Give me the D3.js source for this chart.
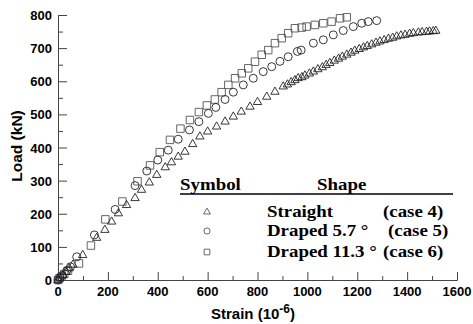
<!DOCTYPE html>
<html>
<head>
<meta charset="utf-8">
<script src="https://cdnjs.cloudflare.com/ajax/libs/d3/7.8.5/d3.min.js"></script>
<style>
body{margin:0;background:#fff;}
svg{display:block;}
</style>
</head>
<body>
<svg></svg>
<script>
// strain (10^-6) and load (kN)
let straightStrain=[0,8,20,32,45,60,99,155,188,215,242,275,309,335,366,396,430,455,482,509,540,569,600,636,670,703,735,770,800,837,870,903,920,935,950,963,978,990,1008,1024,1042,1060,1075,1090,1108,1125,1140,1158,1175,1190,1208,1225,1240,1258,1275,1291,1308,1325,1342,1358,1375,1392,1410,1425,1445,1460,1478,1490,1505,1515];
let straightLoad=[0,6,15,24,35,46,75,127,151,176,201,226,247,272,294,317,340,355,372,387,410,433,448,463,478,493,508,523,537,553,568,584,590,597,603,609,612,617,623,629,636,642,649,655,662,668,674,680,686,692,697,702,706,711,716,720,724,728,731,735,738,740,743,745,747,748,749,750,751,752];

let drapedAStrain=[0,8,18,35,50,75,146,229,309,356,400,442,482,527,565,603,633,670,703,743,783,823,857,890,923,960,975,1024,1064,1104,1144,1184,1218,1244,1278];
let drapedALoad=[0,7,14,28,40,70,136,213,285,329,362,392,425,453,478,503,521,545,567,589,609,629,644,660,674,690,694,715,725,740,753,765,775,780,783];

let drapedBStrain=[0,6,14,25,40,84,132,190,258,319,369,408,449,491,529,565,597,629,656,683,710,737,763,790,817,843,870,897,923,950,977,997,1030,1064,1097,1131,1158];
let drapedBLoad=[0,5,10,18,28,50,104,183,237,298,346,386,423,457,483,507,527,545,567,589,609,624,639,659,680,694,715,730,745,760,762,765,770,775,780,790,793];

let xTicks=[0,200,400,600,800,1000,1200,1400,1600];
let yTicks=[0,100,200,300,400,500,600,700,800];

let legendNames=['Straight','Draped 5.7 °','Draped 11.3 °'];
let legendCases=['(case 4)','(case 5)','(case 6)'];

let w=473;
let h=324;
let svg=d3.select('svg').attr('width',w).attr('height',h);

let xScale=d3.scaleLinear().domain([0,1600]).range([58,457]);
let yScale=d3.scaleLinear().domain([0,800]).range([280,15]);

let axisColor='#444';

// y axis, ticks pointing inside
let yAxis=d3.axisRight(yScale).tickValues(yTicks).tickSize(9).tickFormat('');
svg.append('g').attr('transform','translate(58,0)').call(yAxis);
let yMinor=d3.axisRight(yScale).tickValues(d3.range(50,800,100)).tickSize(5).tickFormat('');
svg.append('g').attr('transform','translate(58,0)').call(yMinor).select('.domain').remove();

let xAxis=d3.axisTop(xScale).tickValues(xTicks).tickSize(8).tickFormat('');
svg.append('g').attr('transform','translate(0,280)').call(xAxis);
let xMinor=d3.axisTop(xScale).tickValues(d3.range(100,1600,200)).tickSize(4).tickFormat('');
svg.append('g').attr('transform','translate(0,280)').call(xMinor).select('.domain').remove();

svg.selectAll('.domain,.tick line').attr('stroke',axisColor).attr('stroke-width',1);

let labelFont='Liberation Sans, Arial, sans-serif';

svg.selectAll('.ylab').data(yTicks).enter().append('text')
  .attr('x',52).attr('y',d=>yScale(d)+5)
  .attr('text-anchor','end')
  .style('font-family',labelFont).style('font-weight','bold').style('font-size','13px')
  .text(d=>d);

svg.selectAll('.xlab').data(xTicks).enter().append('text')
  .attr('x',d=>xScale(d)).attr('y',296)
  .attr('text-anchor','middle')
  .style('font-family',labelFont).style('font-weight','bold').style('font-size','13px')
  .text(d=>d);

let xTitle=svg.append('text')
  .attr('x',253).attr('y',319)
  .attr('text-anchor','middle')
  .style('font-family',labelFont).style('font-weight','bold').style('font-size','15px');
xTitle.append('tspan').text('Strain (10');
xTitle.append('tspan').attr('dy',-6).style('font-size','12px').text('-6');
xTitle.append('tspan').attr('dy',6).text(')');

svg.append('text')
  .attr('transform','translate(22,146) rotate(-90)')
  .attr('text-anchor','middle')
  .style('font-family',labelFont).style('font-weight','bold').style('font-size','15.5px')
  .text('Load (kN)');

// markers
let drawSeries=(xs,ys,type,size,color)=>{
  svg.append('g').selectAll('path')
    .data(xs.map((v,i)=>[v,ys[i]]))
    .enter().append('path')
    .attr('d',d3.symbol().type(type).size(size))
    .attr('transform',d=>'translate('+xScale(d[0])+','+yScale(d[1])+')')
    .attr('fill','none')
    .attr('stroke',color)
    .attr('stroke-width',0.9);
};
drawSeries(drapedBStrain,drapedBLoad,d3.symbolSquare,56,'#555');
drawSeries(drapedAStrain,drapedALoad,d3.symbolCircle,50,'#222');
drawSeries(straightStrain,straightLoad,d3.symbolTriangle,30,'#222');

// legend (the serif text is stretched wide in the original)
let serif='Liberation Serif, Times New Roman, serif';
let legendText=(x,y,txt)=>{
  svg.append('text')
    .attr('transform','translate('+x+','+y+') scale(1.18,1)')
    .style('font-family',serif).style('font-weight','bold').style('font-size','16px')
    .text(txt);
};
legendText(180,190,'Symbol');
legendText(317,190,'Shape');
svg.append('line').attr('x1',180).attr('x2',453).attr('y1',194).attr('y2',194)
  .attr('stroke','#000').attr('stroke-width',1.3);

let rowY=[212,231,252];
let legendTypes=[d3.symbolTriangle,d3.symbolCircle,d3.symbolSquare];
let legendSizes=[20,30,32];
svg.selectAll('.lsym').data(legendTypes).enter().append('path')
  .attr('d',(d,i)=>d3.symbol().type(d).size(legendSizes[i])())
  .attr('transform',(d,i)=>'translate(207,'+rowY[i]+')')
  .attr('fill','none').attr('stroke','#444').attr('stroke-width',0.8);

let caseX=[383,388,383];
legendNames.forEach((d,i)=>legendText(267,rowY[i]+5,d));
legendCases.forEach((d,i)=>legendText(caseX[i],rowY[i]+5,d));
</script>
</body>
</html>
